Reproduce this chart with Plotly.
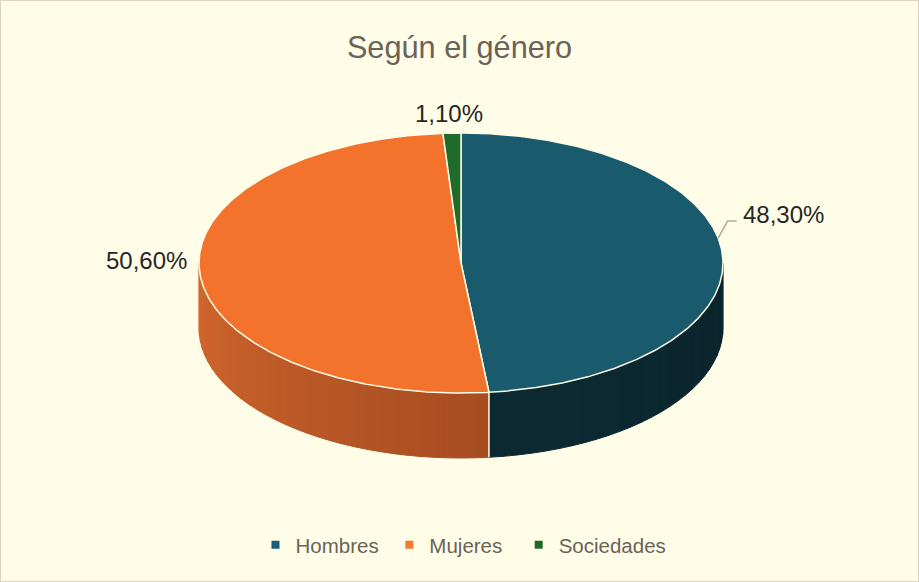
import numpy as np
import plotly.graph_objects as go

# ---- data ----
categories = ["Hombres", "Mujeres", "Sociedades"]
values = [48.3, 50.6, 1.1]
value_labels = ["48,30%", "50,60%", "1,10%"]

# ---- styles ----
W, H = 919, 582
BG = "#FFFDE8"
top_colors = ["#195B6D", "#F3722C", "#1E6B2A"]
side_colors = [("#0A242C", "#0F3039"), ("#7E3516", "#D3672D"), ("#0F3A16", "#1A5A24")]
legend_colors = ["#1A5F73", "#F47A30", "#1C6B25"]
legend_pad = [1, 2, 0]   # trailing non-breaking spaces for legend spacing
TXT = "#6B6258"
LBL = "#262626"
FONT = "Liberation Sans, Arial, sans-serif"

CX, CY, RX, RY, DEPTH = 461, 263, 262, 130, 65
# label offsets (px) relative to the slice mid-point on the rim: (xshift, yshift, xanchor)
label_offsets = [(18, 42, "left"), (-11, 14, "right"), (-3, 20, "center")]


def ell(theta_deg, dy=0.0):
    t = np.radians(theta_deg)
    return CX + RX * np.sin(t), CY + dy - RY * np.cos(t)


def mix(c1, c2, f):
    a = [int(c1[i:i + 2], 16) for i in (1, 3, 5)]
    b = [int(c2[i:i + 2], 16) for i in (1, 3, 5)]
    return "#" + "".join(f"{int(round(a[k] + (b[k] - a[k]) * f)):02X}" for k in range(3))


total = sum(values)
bounds = np.concatenate([[0], np.cumsum(values)]) / total * 360.0

fig = go.Figure()

# ---- side walls (front half only: 90..270 deg) ----
for i, cat in enumerate(categories):
    a, b = bounds[i], bounds[i + 1]
    lo, hi = max(a, 90.0), min(b, 270.0)
    if hi <= lo:
        continue
    n = max(2, int((hi - lo) / 3))
    edges = np.linspace(lo, hi, n + 1)
    for k in range(n):
        t = np.linspace(edges[k], edges[k + 1], 6)
        xt, yt = ell(t)
        xb, yb = ell(t[::-1], DEPTH)
        f = ((edges[k] + edges[k + 1]) / 2 - 90.0) / 180.0
        col = mix(side_colors[i][0], side_colors[i][1], f)
        fig.add_trace(go.Scatter(
            x=np.concatenate([xt, xb, xt[:1]]), y=np.concatenate([yt, yb, yt[:1]]),
            mode="lines", fill="toself", fillcolor=col,
            line=dict(color=col, width=1), hoverinfo="skip", showlegend=False))

# vertical split lines on the visible wall
for th in bounds[1:-1]:
    if 90 < th < 270:
        x0, y0 = ell(th)
        x1, y1 = ell(th, DEPTH)
        fig.add_trace(go.Scatter(x=[x0, x1], y=[y0, y1], mode="lines",
                                 line=dict(color=BG, width=1.5),
                                 hoverinfo="skip", showlegend=False))

# ---- top face wedges ----
for i, cat in enumerate(categories):
    a, b = bounds[i], bounds[i + 1]
    t = np.linspace(a, b, max(4, int((b - a) * 2)))
    xs, ys = ell(t)
    fig.add_trace(go.Scatter(
        x=np.concatenate([[CX], xs, [CX]]), y=np.concatenate([[CY], ys, [CY]]),
        mode="lines", fill="toself", fillcolor=top_colors[i],
        line=dict(color=BG, width=1.5), name=cat, hoverinfo="skip", showlegend=False))

# ---- data labels ----
for i, cat in enumerate(categories):
    mid = (bounds[i] + bounds[i + 1]) / 2
    mx, my = ell(mid)
    xs_, ys_, anc = label_offsets[i]
    fig.add_annotation(x=mx, y=my, xref="x", yref="y", text=value_labels[i],
                       showarrow=False, xanchor=anc, yanchor="middle",
                       xshift=xs_, yshift=ys_,
                       font=dict(family=FONT, size=24, color=LBL))

# leader line for the first slice
mid0 = (bounds[0] + bounds[1]) / 2
px, py = ell(mid0 - 8)
mx0, my0 = ell(mid0)
ty = my0 - label_offsets[0][1]
tx = mx0 + label_offsets[0][0]
fig.add_trace(go.Scatter(x=[px, tx - 13, tx - 4], y=[py, ty + 7, ty + 7], mode="lines",
                         line=dict(color="#B4AA9C", width=1.5),
                         hoverinfo="skip", showlegend=False))

# ---- legend entries ----
for i, cat in enumerate(categories):
    fig.add_trace(go.Scatter(x=[None], y=[None], mode="markers",
                             name=cat + "\u00a0" * legend_pad[i],
                             marker=dict(symbol="square", size=8, color=legend_colors[i]),
                             showlegend=True))

fig.update_layout(
    width=W, height=H, autosize=False,
    margin=dict(l=0, r=0, t=0, b=0),
    paper_bgcolor=BG, plot_bgcolor=BG,
    xaxis=dict(range=[0, W], visible=False, fixedrange=True),
    yaxis=dict(range=[H, 0], visible=False, fixedrange=True),
    title=dict(text="Según el género", x=0.5, xanchor="center",
               y=1 - 47 / H, yanchor="middle",
               font=dict(family=FONT, size=30.7, color=TXT)),
    legend=dict(orientation="h", x=0.5 + 4 / W, xanchor="center", y=1 - 545 / H, yanchor="middle",
                font=dict(family=FONT, size=20.5, color=TXT), bgcolor="rgba(0,0,0,0)",
                itemwidth=30),
    shapes=[dict(type="rect", xref="paper", yref="paper", x0=0, y0=0, x1=1, y1=1,
                 line=dict(color="#DDD3BF", width=2))],
)

fig.write_html("out.html", config={"displayModeBar": False},
               post_script="document.body.style.margin='0';document.body.style.overflow='hidden';")
